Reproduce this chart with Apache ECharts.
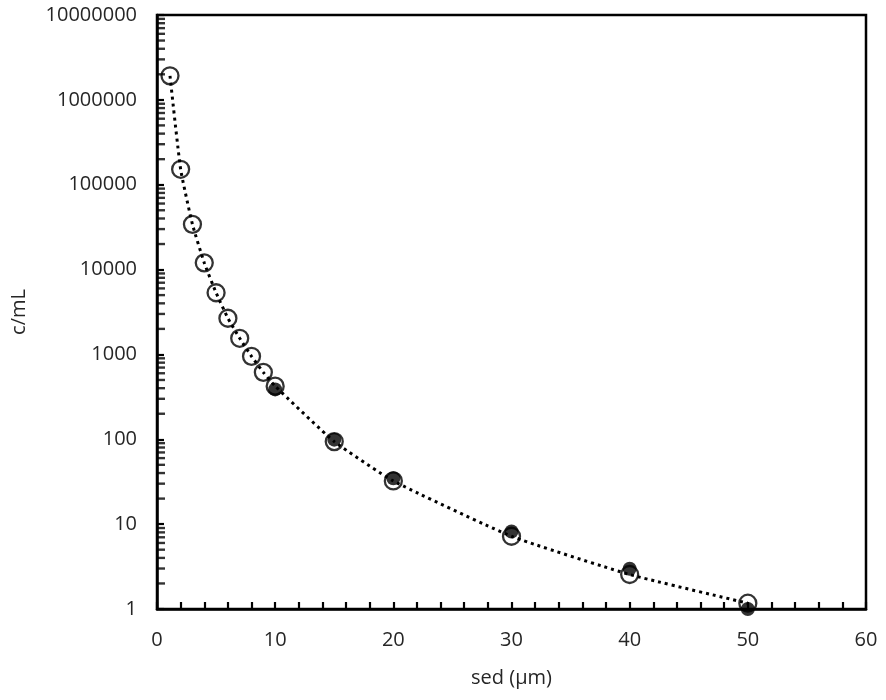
<!DOCTYPE html>
<html>
<head>
<meta charset="utf-8">
<script src="https://cdn.jsdelivr.net/npm/echarts@6/dist/echarts.min.js"></script>
<style>
  html, body { margin: 0; padding: 0; background: #fff; }
  #chart { width: 886px; height: 700px; }
</style>
</head>
<body>
<div id="chart"></div>
<script>
// open circles (also carry the dotted curve)
const sedOpen = [1.1, 2, 3, 4, 5, 6, 7, 8, 9, 10, 15, 20, 30, 40, 50];
const cOpen = [1920000, 152000, 34100, 12000, 5330, 2670, 1550, 950, 615, 423, 94, 32.3, 7.2, 2.55, 1.17];
// filled dots
const sedFilled = [10, 15, 20, 30, 40, 50];
const cFilled = [387, 99, 34.7, 8.2, 2.98, 1.0];

const xTicks = [0, 10, 20, 30, 40, 50, 60];
const yDecades = [1, 10, 100, 1000, 10000, 100000, 1000000, 10000000];

const textColor = '#262626';
const fontFamily = '"Open Sans", sans-serif';

// log minor tick values 2..9 inside each decade, sitting on the y axis
const yMinor = [];
yDecades.slice(0, -1).forEach(d => {
    for (let m = 2; m <= 9; m++) yMinor.push([xTicks[0], m * d]);
});

const chart = echarts.init(document.getElementById('chart'));

chart.setOption({
    animation: false,
    grid: {
        left: 157, right: 20, top: 15, bottom: 91,
        show: true, borderColor: '#000', borderWidth: 2.5
    },
    xAxis: {
        type: 'value',
        min: xTicks[0],
        max: xTicks[xTicks.length - 1],
        interval: 10,
        name: 'sed (µm)',
        nameLocation: 'middle',
        nameGap: 59,
        nameTextStyle: { color: textColor, fontSize: 20, fontFamily },
        axisLine: { lineStyle: { color: '#000', width: 2.5 } },
        axisTick: { inside: true, length: 7, lineStyle: { color: '#000', width: 2.2 } },
        minorTick: { show: true, splitNumber: 5, length: 7, lineStyle: { color: '#000', width: 2.2 } },
        axisLabel: { color: textColor, fontSize: 20, fontFamily, margin: 21 },
        splitLine: { show: false }
    },
    yAxis: {
        type: 'log',
        logBase: 10,
        min: yDecades[0],
        max: yDecades[yDecades.length - 1],
        name: 'c/mL',
        nameLocation: 'middle',
        nameGap: 128,
        nameTextStyle: { color: textColor, fontSize: 20, fontFamily },
        axisLine: { show: true, lineStyle: { color: '#000', width: 2.5 } },
        axisTick: { show: true, inside: true, length: 7, lineStyle: { color: '#000', width: 2.2 } },
        minorTick: { show: false },
        axisLabel: {
            color: textColor, fontSize: 20, fontFamily, margin: 20,
            formatter: v => String(Math.round(v))
        },
        splitLine: { show: false }
    },
    series: [
        {
            // log minor ticks on the y axis
            type: 'scatter',
            data: yMinor,
            clip: false,
            symbol: 'rect',
            symbolSize: [8, 2.4],
            symbolOffset: [4, 0],
            itemStyle: { color: '#000' }
        },
        {
            type: 'line',
            data: sedOpen.map((x, i) => [x, cOpen[i]]),
            showSymbol: false,
            smooth: 0.15,
            lineStyle: { color: '#000', width: 3, type: [3, 4], cap: 'butt' },
            z: 2
        },
        {
            type: 'scatter',
            data: sedOpen.map((x, i) => [x, cOpen[i]]),
            symbol: 'circle',
            symbolSize: 17,
            itemStyle: { color: 'rgba(0,0,0,0)', borderColor: '#000', borderWidth: 2.3 },
            z: 3
        },
        {
            type: 'scatter',
            data: sedFilled.map((x, i) => [x, cFilled[i]]),
            symbol: 'circle',
            symbolSize: 14,
            itemStyle: { color: '#000' },
            z: 4
        }
    ]
});
</script>
</body>
</html>
